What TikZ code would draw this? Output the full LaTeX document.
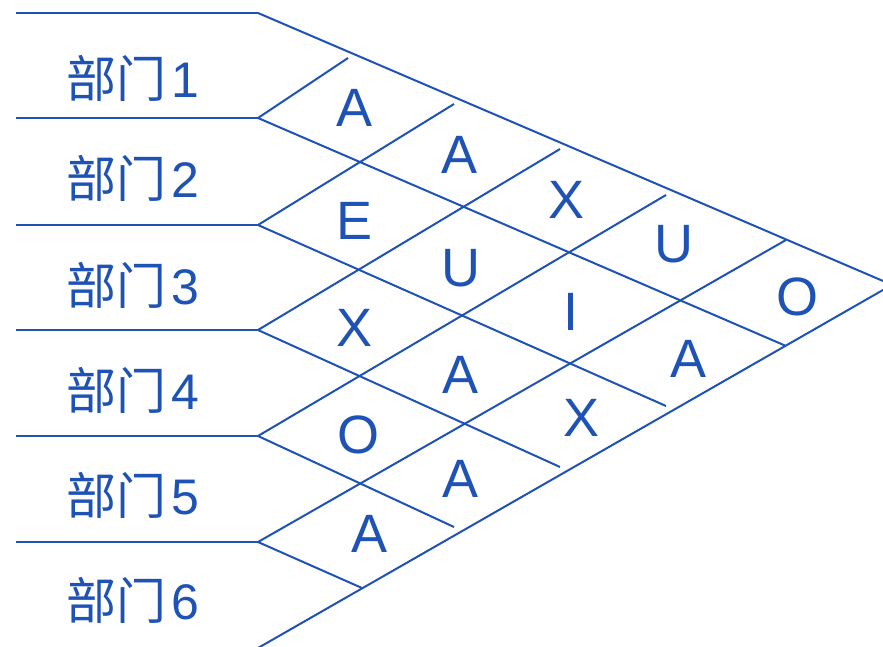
\documentclass[tikz,border=0pt]{standalone}
\usepackage{fontspec}
\setmainfont{Liberation Sans}
\newfontfamily\cjk{Noto Sans CJK SC}
\definecolor{chartblue}{RGB}{30,82,180}
\newcommand{\deptname}[1]{{\cjk 部门}\kern5pt#1}
\tikzset{
  grid/.style={draw=chartblue, line width=2pt},
  dept/.style={anchor=west, inner sep=0pt, text=chartblue,
    font=\fontsize{50}{60}\selectfont},
  rel/.style={inner sep=0pt, text=chartblue,
    font=\fontsize{54}{64}\selectfont},
}
\begin{document}
\begin{tikzpicture}[x=1pt,y=-1pt]
  \useasboundingbox (0,0) rectangle (883,647);
  \clip (0,0) rectangle (883,647);

  % row separators (left ends and junctions)
  \foreach \k/\y in {0/13,1/118,2/225,3/330,4/436,5/542} {
    \coordinate (L\k) at (16,\y);
    \coordinate (J\k) at (258,\y);
  }
  \coordinate (J6) at (258,648);

  % outer boundary ends
  \coordinate (topend) at (884,281.4);
  \coordinate (botend) at (884,289.4);

  % ends of the rising lines
  \coordinate (u1) at (348,58);
  \coordinate (u2) at (454,104);
  \coordinate (u3) at (560,149);
  \coordinate (u4) at (666,195);
  \coordinate (u5) at (786,240);

  % ends of the falling lines
  \coordinate (d1) at (786,346);
  \coordinate (d2) at (666,406);
  \coordinate (d3) at (560,467);
  \coordinate (d4) at (454,527);
  \coordinate (d5) at (362,588);

  % horizontal row lines
  \foreach \k in {0,...,5} \draw[grid] (L\k) -- (J\k);

  % outer boundary
  \draw[grid] (J0) -- (topend);
  \draw[grid] (J6) -- (botend);

  % diamond lattice
  \foreach \k in {1,...,5} {
    \draw[grid] (J\k) -- (u\k);
    \draw[grid] (J\k) -- (d\k);
  }

  % department labels
  \node[dept] (r1) at (66,78)  {\deptname{1}};
  \node[dept] (r2) at (66,178) {\deptname{2}};
  \node[dept] (r3) at (66,285) {\deptname{3}};
  \node[dept] (r4) at (66,390) {\deptname{4}};
  \node[dept] (r5) at (66,495) {\deptname{5}};
  \node[dept] (r6) at (66,600) {\deptname{6}};

  % relationship grades
  \node[rel] (c12) at (355,108) {A};
  \node[rel] (c13) at (460,155) {A};
  \node[rel] (c14) at (567,200) {X};
  \node[rel] (c15) at (674,244) {U};
  \node[rel] (c16) at (797,297) {O};
  \node[rel] (c23) at (355,221) {E};
  \node[rel] (c24) at (461,268) {U};
  \node[rel] (c25) at (571,312) {I};
  \node[rel] (c26) at (688,359) {A};
  \node[rel] (c34) at (355,328) {X};
  \node[rel] (c35) at (461,375) {A};
  \node[rel] (c36) at (582,418) {X};
  \node[rel] (c45) at (358,435) {O};
  \node[rel] (c46) at (461,479) {A};
  \node[rel] (c56) at (370,534) {A};
\end{tikzpicture}
\end{document}
